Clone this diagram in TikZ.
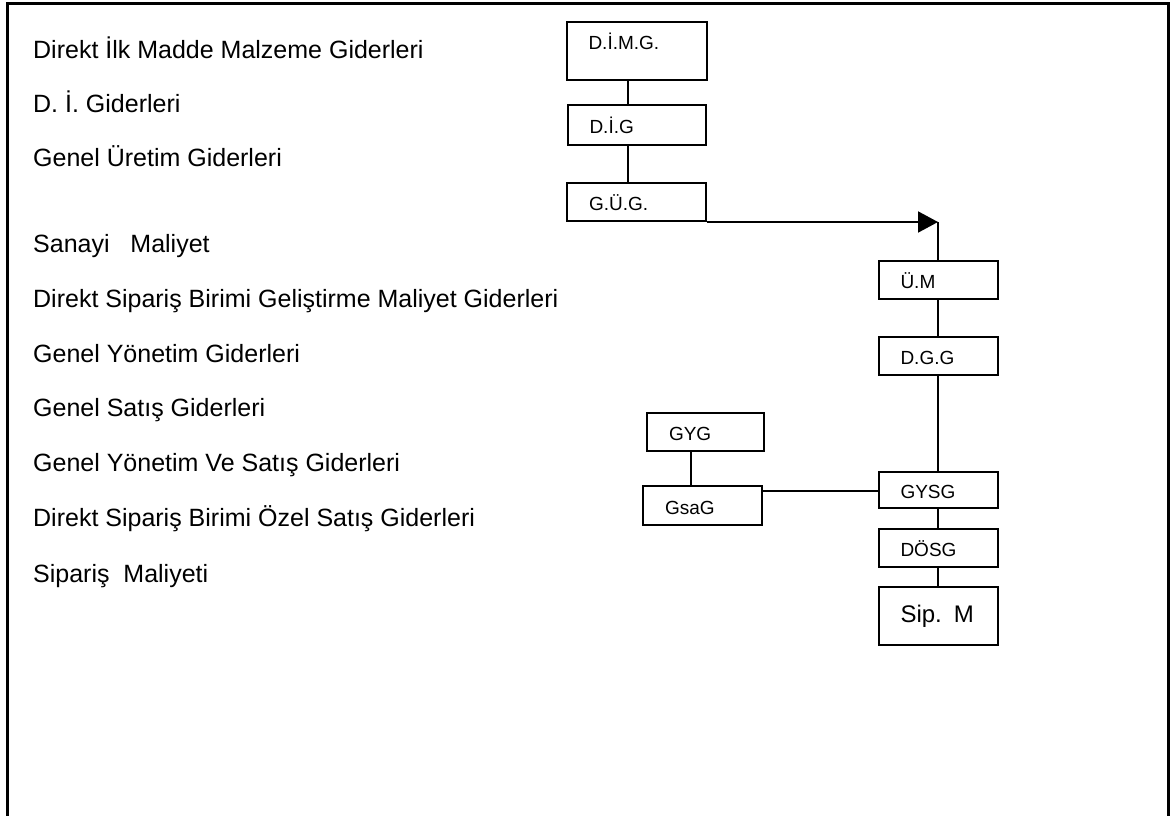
\documentclass[tikz,border=0pt]{standalone}
\usepackage{fontspec}
\setmainfont{Liberation Sans}
\usetikzlibrary{arrows.meta}

\begin{document}
\begin{tikzpicture}[
  x=1pt,y=-1pt,
  item/.style={anchor=base west,inner sep=0pt,font=\fontsize{25}{29}\selectfont},
  box/.style={draw,line width=2pt,align=left,inner xsep=22pt,inner ysep=0pt,
    text height=17pt,text depth=0pt,font=\fontsize{19}{23}\selectfont},
  link/.style={line width=2pt},
  arrow/.style={-{Triangle[length=20pt,width=21pt]},line width=2pt}
]
\useasboundingbox (0,0) rectangle (1170,816);
\draw[line width=3pt] (7,816) -- (7,4) -- (1168,4) -- (1168,816);

% names on the left
\node[item] (dimgname) at (33,59) {Direkt İlk Madde Malzeme Giderleri};
\node[item] (digname) at (33,112) {D. İ. Giderleri};
\node[item] (gugname) at (33,166) {Genel Üretim Giderleri};
\node[item] (umname) at (33,252) {Sanayi\ \ \ Maliyet};
\node[item] (dggname) at (33,307) {Direkt Sipariş Birimi Geliştirme Maliyet Giderleri};
\node[item] (gygname) at (33,362) {Genel Yönetim Giderleri};
\node[item] (gsagname) at (33,416) {Genel Satış Giderleri};
\node[item] (gysgname) at (33,471) {Genel Yönetim Ve Satış Giderleri};
\node[item] (dosgname) at (33,526) {Direkt Sipariş Birimi Özel Satış Giderleri};
\node[item] (sipmname) at (33,582) {Sipariş\ \ Maliyeti};

% boxes
\node[box,text width=96pt,minimum height=58pt,text height=13pt,text depth=15pt] (dimg) at (636.5,51) {D.İ.M.G.};
\node[box,text width=94pt,minimum height=40pt] (dig) at (636.5,125) {D.İ.G};
\node[box,text width=95pt,minimum height=38pt] (gug) at (636.5,202) {G.Ü.G.};
\node[box,text width=75pt,minimum height=38pt] (um) at (938,280) {Ü.M};
\node[box,text width=75pt,minimum height=38pt] (dgg) at (938,356) {D.G.G};
\node[box,text width=73pt,minimum height=38pt] (gyg) at (705.5,432) {GYG};
\node[box,text width=75pt,minimum height=39pt] (gsag) at (702.5,505.5) {GsaG};
\node[box,text width=75pt,minimum height=36pt] (gysg) at (938,490) {GYSG};
\node[box,text width=75pt,minimum height=38pt] (dosg) at (938,548) {DÖSG};
\node[box,text width=75pt,minimum height=58pt,text height=12pt,font=\fontsize{24}{28}\selectfont] (sipm) at (938,616) {Sip. M};

% connectors
\coordinate (knee) at (um.north |- gug.south east);
\draw[link] ([xshift=-9pt]dimg.south) -- ([xshift=-9pt]dig.north);
\draw[link] ([xshift=-9pt]dig.south) -- ([xshift=-9pt]gug.north);
\draw[arrow] (gug.south east) -- (knee);
\draw[link] (knee) -- (um.north);
\draw[link] (um) -- (dgg);
\draw[link] (dgg) -- (gysg);
\draw[link] (gysg) -- (dosg);
\draw[link] (dosg) -- (sipm);
\draw[link] ([xshift=-15pt]gyg.south) -- ([xshift=-15pt]gyg.south |- gsag.north);
\draw[link] ([yshift=-6pt]gsag.north east) -- ([yshift=-6pt]gsag.north east -| gysg.west);
\end{tikzpicture}
\end{document}
